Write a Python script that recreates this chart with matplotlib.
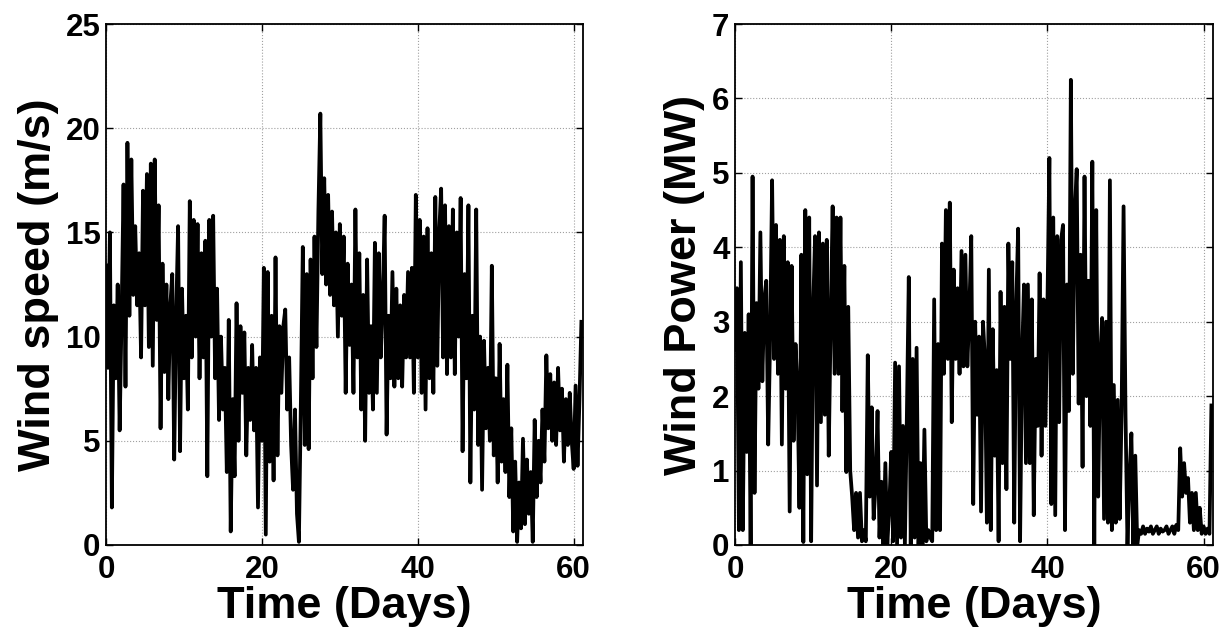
import numpy as np
import matplotlib
matplotlib.use("Agg")
import matplotlib.pyplot as plt

plt.rcParams['font.family'] = ['Liberation Sans', 'DejaVu Sans']
plt.rcParams['font.weight'] = 'bold'

# sampling step of both series (days)
step_days = 0.25

# Wind speed (m/s), 4 samples per day
wind_speed = [
    13.5, 8.5, 15.0, 1.8,   11.5, 8.0, 12.5, 5.5,   11.0, 17.3, 7.6, 19.3,
    11.0, 18.5, 12.0, 15.3, 11.5, 14.0, 9.0, 17.0,  11.5, 17.8, 9.5, 18.3,
    8.6, 18.5, 10.8, 16.3,  5.6, 13.5, 8.3, 12.5,   7.0, 11.5, 13.0, 4.1,
    11.0, 15.3, 4.5, 12.3,  8.0, 11.0, 6.5, 16.5,   9.0, 15.6, 10.0, 15.4,
    8.0, 14.0, 9.0, 14.6,   3.3, 15.6, 10.0, 15.8,  8.0, 12.3, 6.0, 10.0,
    6.5, 8.5, 3.5, 10.8,    0.65, 7.0, 3.3, 11.6,   5.0, 10.5, 7.3, 10.2,
    4.3, 8.5, 6.0, 9.6,     5.5, 8.5, 1.8, 9.0,     5.0, 13.3, 0.5, 13.1,
    4.0, 11.0, 3.1, 13.8,   4.3, 10.5, 7.3, 10.5,   11.3, 6.5, 9.0, 4.8,
    2.65, 6.5, 1.5, 0.15,   6.8, 14.3, 4.8, 13.0,   4.6, 13.7, 8.0, 14.8,
    9.5, 16.0, 20.7, 13.0,  17.6, 12.5, 16.8, 12.0, 16.0, 11.5, 15.0, 10.0,
    15.4, 11.0, 14.8, 7.3,  13.5, 9.6, 12.5, 7.3,   16.1, 9.0, 14.0, 6.5,
    12.0, 5.0, 13.7, 7.3,   10.5, 6.5, 14.5, 7.3,   14.0, 9.0, 11.8, 15.8,
    5.3, 11.0, 8.0, 13.1,   7.6, 12.3, 8.0, 11.5,   7.6, 12.0, 9.0, 13.1,
    9.0, 13.3, 7.3, 16.8,   9.0, 15.6, 7.3, 14.8,   6.5, 15.2, 8.0, 14.0,
    7.3, 16.7, 8.6, 15.0,   17.1, 9.0, 16.3, 8.2,   15.3, 9.0, 16.1, 8.2,
    15.0, 10.0, 16.65, 4.5, 13.0, 8.0, 16.3, 3.0,   11.0, 6.5, 16.1, 4.8,
    10.0, 2.65, 9.8, 5.6,   8.5, 5.0, 13.4, 4.3,    8.0, 3.0, 9.65, 4.0,
    7.0, 3.5, 8.65, 2.3,    5.6, 0.65, 4.0, 0.15,   3.0, 0.8, 5.1, 1.0,
    4.1, 1.5, 3.5, 0.15,    6.0, 2.3, 5.0, 3.0,     6.5, 4.0, 9.1, 5.6,
    8.2, 5.0, 7.8, 4.8,     8.5, 5.5, 7.5, 4.0,     7.0, 4.8, 7.3, 5.0,
    3.65, 7.65, 3.8, 7.0,
    10.8,
]

# Wind power (MW), 4 samples per day
wind_power = [
    2.6, 3.45, 0.2, 3.8,    0.2, 2.85, 1.25, 3.1,   0.0, 4.95, 0.7, 3.25,
    2.1, 4.2, 2.2, 3.3,     3.55, 1.35, 2.8, 4.9,   2.5, 4.3, 2.3, 4.1,
    1.35, 4.15, 2.1, 3.8,   0.45, 3.75, 1.4, 2.7,   2.1, 0.5, 3.9, 0.04,
    4.5, 0.95, 4.4, 0.05,   3.15, 4.15, 0.8, 4.2,   1.65, 4.05, 1.75, 4.1,
    1.2, 3.0, 4.55, 2.3,    4.4, 2.3, 4.4, 1.8,     3.75, 0.98, 3.2, 1.0,
    0.65, 0.2, 0.7, 0.1,    0.7, 0.05, 0.2, 0.05,   2.55, 0.65, 1.85, 0.35,
    0.8, 1.8, 0.1, 0.85,    0.0, 1.1, 0.0, 0.5,     1.25, 0.05, 2.45, 0.0,
    2.4, 0.1, 1.6, 0.0,     1.7, 3.6, 0.0, 2.5,     0.1, 2.65, 0.0, 1.1,
    0.0, 1.55, 0.05, 0.2,   0.1, 0.05, 3.3, 0.2,    2.7, 0.2, 4.05, 2.3,
    4.5, 2.5, 4.6, 1.65,    3.7, 2.5, 3.45, 2.3,    3.95, 2.4, 3.9, 2.4,
    3.15, 4.15, 0.55, 3.0,  1.75, 2.8, 0.45, 3.0,   2.5, 0.3, 3.7, 0.2,
    2.9, 1.2, 2.35, 0.05,   3.4, 1.1, 3.2, 0.75,    4.05, 2.5, 3.8, 0.3,
    3.2, 4.25, 0.05, 2.5,   3.5, 1.1, 3.5, 1.1,     3.3, 0.4, 2.5, 1.6,
    3.65, 1.2, 3.3, 1.6,    3.2, 5.2, 0.55, 4.4,    0.4, 4.15, 1.65, 4.1,
    4.3, 0.2, 3.5, 1.8,     6.25, 2.3, 4.45, 5.05,  1.9, 3.9, 1.05, 4.95,
    2.0, 3.55, 1.6, 5.15,   0.0, 4.5, 0.65, 2.5,    3.05, 0.35, 3.0, 0.3,
    4.9, 0.2, 2.15, 0.3,    1.95, 0.35, 1.8, 4.55,  1.75, 0.0, 0.9, 1.5,
    0.0, 1.2, 0.0, 0.2,     0.15, 0.25, 0.15, 0.22, 0.18, 0.25, 0.15, 0.2,
    0.25, 0.15, 0.22, 0.18, 0.2, 0.25, 0.15, 0.2,   0.25, 0.15, 0.27, 0.2,
    1.3, 0.65, 1.1, 0.7,    0.9, 0.3, 0.7, 0.2,     0.7, 0.2, 0.5, 0.15,
    0.25, 0.15, 0.22, 0.15,
    1.9,
]

x_ticks = [0, 20, 40, 60]
speed_ticks = [0, 5, 10, 15, 20, 25]
power_ticks = [0, 1, 2, 3, 4, 5, 6, 7]

t_speed = np.arange(len(wind_speed)) * step_days
t_power = np.arange(len(wind_power)) * step_days

W, H = 1229, 641
fig = plt.figure(figsize=(W / 100, H / 100), dpi=100)

ax1 = fig.add_axes([106 / W, (H - 545) / H, 477 / W, 521 / H])
ax2 = fig.add_axes([735 / W, (H - 545) / H, 478 / W, 521 / H])

specs = [
    (ax1, t_speed, wind_speed, speed_ticks, (0, 25), 'Wind speed (m/s)'),
    (ax2, t_power, wind_power, power_ticks, (0, 7), 'Wind Power (MW)'),
]

for ax, t, y, yt, ylim, ylab in specs:
    ax.plot(t, y, color='black', linewidth=2.7, solid_joinstyle='round',
            solid_capstyle='butt')
    ax.set_xlim(0, 61.2)
    ax.set_ylim(*ylim)
    ax.set_xticks(x_ticks)
    ax.set_yticks(yt)
    ax.grid(True, linestyle=':', color='#a0a0a0', linewidth=0.8)
    ax.set_axisbelow(True)
    ax.tick_params(direction='in', length=5, width=1.0, top=True, right=True,
                   labelsize=22.5)
    ax.tick_params(axis='x', pad=7)
    ax.tick_params(axis='y', pad=4)
    for lab in ax.get_xticklabels() + ax.get_yticklabels():
        lab.set_fontweight('bold')
    for sp in ax.spines.values():
        sp.set_linewidth(1.3)
        sp.set_zorder(5)
    ax.set_xlabel('Time (Days)', fontsize=32.5, fontweight='bold', labelpad=1)
    ax.set_ylabel(ylab, fontsize=32.5, fontweight='bold', labelpad=5)

fig.savefig('out.png', dpi=100)
